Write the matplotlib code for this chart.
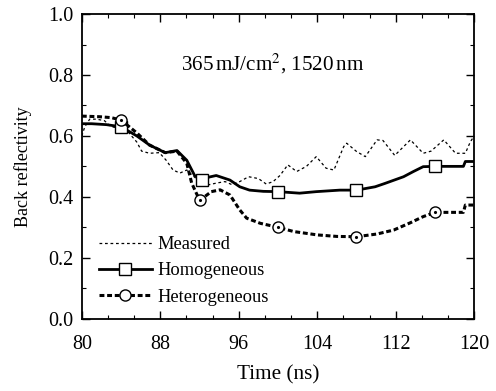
import matplotlib
matplotlib.use("Agg")
import matplotlib.pyplot as plt
from matplotlib.ticker import MultipleLocator

# 1. DATA --------------------------------------------------------------
meas_t = [80.0, 80.3, 80.8, 81.5, 82.3, 83.0, 84.0, 84.8, 85.6, 86.1, 86.9, 87.9,
          88.6, 89.3, 90.0, 90.7, 91.3, 92.0, 93.0, 93.7, 94.6, 95.3, 96.1, 97.0,
          98.0, 98.8, 99.5, 100.2, 101.0, 101.9, 102.9, 103.9, 104.9, 105.7,
          106.7, 107.0, 108.0, 108.9, 110.1, 110.7, 111.9, 113.5, 114.8, 115.6,
          116.9, 118.1, 119.1, 119.6, 120.0]
meas_v = [0.60, 0.63, 0.655, 0.655, 0.65, 0.63, 0.625, 0.61, 0.58, 0.55, 0.543, 0.545,
          0.52, 0.488, 0.478, 0.488, 0.47, 0.45, 0.44, 0.445, 0.45, 0.44, 0.45, 0.466,
          0.46, 0.442, 0.45, 0.47, 0.505, 0.483, 0.50, 0.532, 0.494, 0.488,
          0.565, 0.576, 0.549, 0.532, 0.587, 0.585, 0.536, 0.587, 0.543, 0.55,
          0.587, 0.543, 0.543, 0.58, 0.60]

homo_t = [80.0, 81.0, 82.5, 84.0, 85.6, 86.9, 88.5, 89.7, 90.7, 91.5, 92.2, 93.0,
          93.7, 95.1, 96.1, 97.1, 98.5, 100.0, 102.2, 103.9, 106.3, 108.0, 108.7,
          109.9, 110.9, 112.8, 113.8, 114.8, 116.0, 118.9, 119.1, 120.0]
homo_v = [0.64, 0.64, 0.637, 0.63, 0.60, 0.57, 0.545, 0.552, 0.52, 0.47, 0.455, 0.465,
          0.47, 0.455, 0.433, 0.422, 0.418, 0.417, 0.412, 0.417, 0.422, 0.422, 0.426,
          0.433, 0.444, 0.466, 0.483, 0.499, 0.50, 0.50, 0.516, 0.516]

het_t = [80.0, 81.8, 83.0, 84.0, 85.6, 86.9, 88.5, 89.7, 90.7, 91.2, 91.7, 92.0,
         92.5, 93.2, 94.1, 95.1, 96.1, 96.8, 98.2, 100.0, 101.6, 104.0, 106.0,
         108.0, 110.1, 111.8, 113.5, 114.8, 116.0, 118.9, 119.1, 120.0]
het_v = [0.665, 0.663, 0.66, 0.652, 0.61, 0.57, 0.545, 0.55, 0.51, 0.445, 0.41, 0.39,
         0.40, 0.417, 0.423, 0.406, 0.357, 0.33, 0.313, 0.30, 0.286, 0.275, 0.27,
         0.269, 0.278, 0.291, 0.315, 0.335, 0.349, 0.349, 0.373, 0.373]

marker_t = [84.0, 92.0, 100.0, 108.0, 116.0]

# 2. PLOT --------------------------------------------------------------
plt.rcParams["font.family"] = "Liberation Serif"

fig = plt.figure(figsize=(4.96, 3.91), dpi=100)
ax = fig.add_axes([0.165, 0.185, 0.791, 0.779])


def mark_idx(ts):
    # nearest sample to each marker time
    return [min(range(len(ts)), key=lambda i: abs(ts[i] - m)) for m in marker_t]


ax.plot(meas_t, meas_v, color="black", lw=0.9, ls=(0, (2.2, 2.2)), label="Measured")
ax.plot(homo_t, homo_v, color="black", lw=2.0, marker="s", ms=8, mfc="white",
        mec="black", mew=1.0, markevery=mark_idx(homo_t), label="Homogeneous")
ax.plot(het_t, het_v, color="black", lw=2.2, ls=(0, (1.6, 0.9)), marker="o", ms=8,
        mfc="white", mec="black", mew=1.0, markevery=mark_idx(het_t),
        label="Heterogeneous")
# dot inside circles
idx = mark_idx(het_t)
ax.plot([het_t[i] for i in idx], [het_v[i] for i in idx],
        ls="none", marker=".", ms=2.5, color="black")

ax.set_xlim(80, 120)
ax.set_ylim(0.0, 1.0)
ax.xaxis.set_major_locator(MultipleLocator(8))
ax.xaxis.set_minor_locator(MultipleLocator(8 / 3))
ax.yaxis.set_major_locator(MultipleLocator(0.2))
ax.yaxis.set_minor_locator(MultipleLocator(0.1))
ax.tick_params(which="both", direction="in", top=True, right=True)
ax.tick_params(which="major", length=6, width=1.0, labelsize=14.5)
ax.tick_params(which="minor", length=3, width=0.8)
ax.tick_params(axis="x", which="major", pad=12)
ax.tick_params(axis="y", which="major", pad=6)
ax.yaxis.set_major_formatter(plt.FormatStrFormatter("%.1f"))
for s in ax.spines.values():
    s.set_linewidth(1.3)

ax.set_xlabel("Time (ns)", fontsize=15.3, labelpad=8)
ax.set_ylabel("Back reflectivity", fontsize=13, labelpad=12)

ax.text(0.485, 0.835, r"365$\,$mJ/cm$^2$, 1520$\,$nm", transform=ax.transAxes,
        ha="center", va="center", fontsize=15.2, math_fontfamily="stix")

ax.legend(loc="lower left", frameon=False, fontsize=13.3, handlelength=2.9,
          handletextpad=0.3, labelspacing=0.5, borderaxespad=0.3,
          bbox_to_anchor=(0.01, 0.0))

fig.savefig("out.png", dpi=100)
